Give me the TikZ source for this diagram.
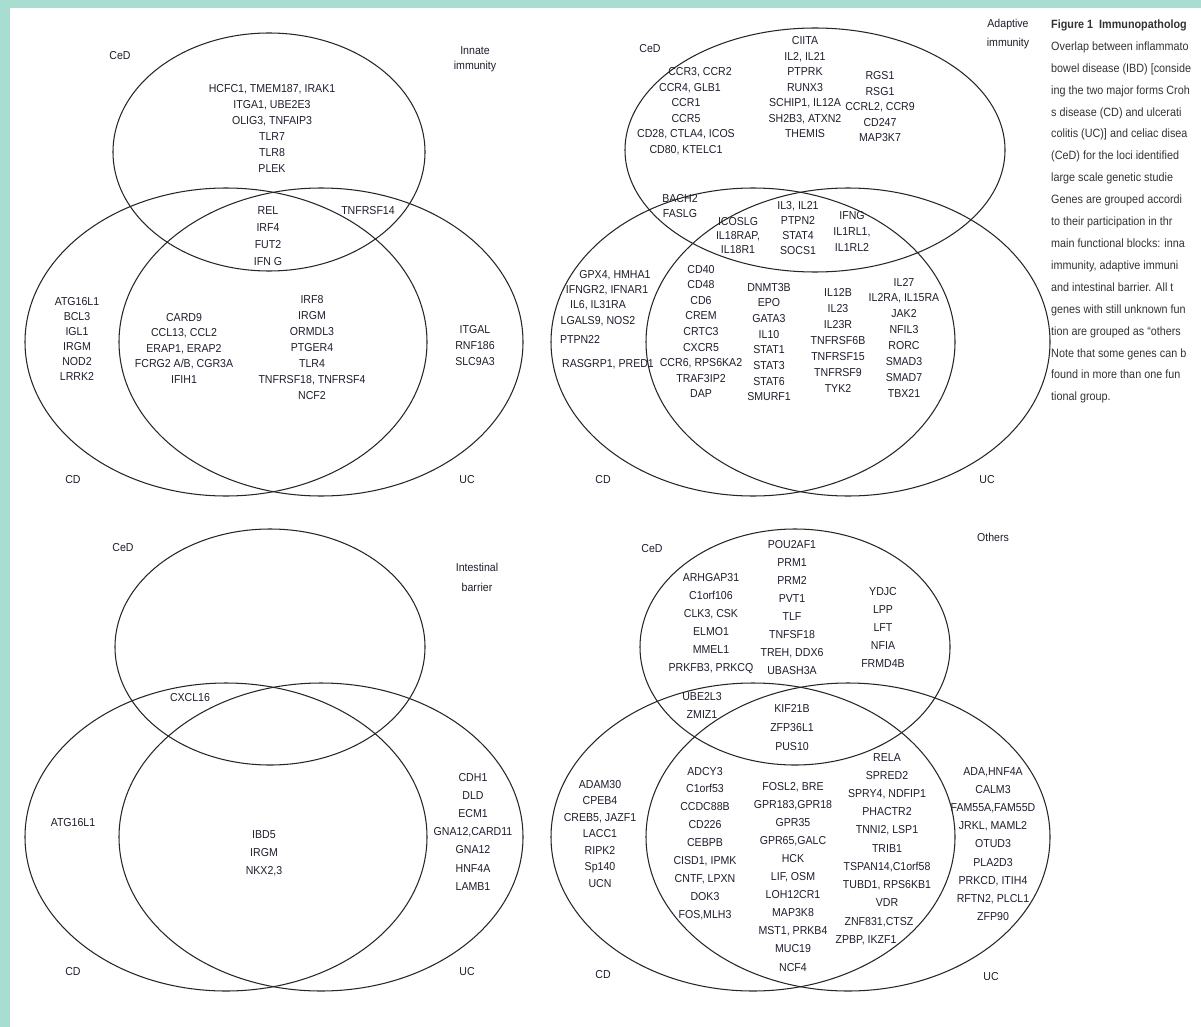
\documentclass[tikz,border=0pt]{standalone}
\usepackage{fontspec}
\setmainfont{Liberation Sans}[FakeStretch=0.92]
\newfontfamily\capfont{Liberation Sans}[FakeStretch=0.9]
\definecolor{frame}{RGB}{168,221,210}
\definecolor{ink}{RGB}{30,30,44}

% one column of gene names, placed top down
\newcommand{\genes}[5]{%
  \foreach \g [count=\i] in {#5}
    \node[gene] (#1\i) at (#2,{#3+(\i-1)*#4}) {\g};}

\begin{document}
\begin{tikzpicture}[x=1pt, y=-1pt,
    gene/.style={inner sep=0pt, text height=8pt, text depth=2pt, text=ink,
                 font=\fontsize{11.5}{13}\selectfont},
    tag/.style={gene},
    ring/.style={draw=black!85, line width=1.05pt},
    capline/.style={anchor=west, inner sep=0pt, text height=9pt, text depth=2pt,
                    text=black!80, font=\capfont\fontsize{12}{14}\selectfont},
  ]
\useasboundingbox (0,0) rectangle (1201,1027);
\fill[white] (0,0) rectangle (1201,1027);
\fill[frame] (0,0) rectangle (1201,8);
\fill[frame] (0,0) rectangle (10,1027);

% innate immunity
\draw[ring] (269,152) ellipse [x radius=156, y radius=119];
\draw[ring] (226,342) ellipse [x radius=201, y radius=154];
\draw[ring] (321,342) ellipse [x radius=202, y radius=154];
\node[tag] (inCeD) at (120,57) {CeD};
\node[tag] (inHead) at (475,52) {Innate};
\node[tag] (inHeadb) at (475,67) {immunity};
\genes{inC}{272}{90}{16}{{HCFC1, TMEM187, IRAK1},{ITGA1, UBE2E3},{OLIG3, TNFAIP3},TLR7,TLR8,PLEK}
\genes{inT}{268}{211}{17}{REL,IRF4,FUT2,IFN G}
\node[gene] (inCU) at (368,211) {TNFRSF14};
\genes{inD}{77}{302}{15}{ATG16L1,BCL3,IGL1,IRGM,NOD2,LRRK2}
\genes{inDUa}{184}{318}{15.5}{CARD9,{CCL13, CCL2},{ERAP1, ERAP2},{FCRG2 A/B, CGR3A},IFIH1}
\genes{inDUb}{312}{300}{16}{IRF8,IRGM,ORMDL3,PTGER4,TLR4,{TNFRSF18, TNFRSF4},NCF2}
\genes{inU}{475}{330}{16}{ITGAL,RNF186,SLC9A3}
\node[tag] (inCD) at (73,480) {CD};
\node[tag] (inUC) at (467,480) {UC};

% adaptive immunity
\draw[ring] (815,150) ellipse [x radius=190, y radius=122];
\draw[ring] (753,342) ellipse [x radius=202, y radius=154];
\draw[ring] (848,342) ellipse [x radius=202, y radius=154];
\node[tag] (adCeD) at (650,50) {CeD};
\node[tag] (adHead) at (1008,25) {Adaptive};
\node[tag] (adHeadb) at (1008,44) {immunity};
\node[gene] (adL1) at (700,73) {CCR3, CCR2};
\node[gene] (adL2) at (690,88.5) {CCR4, GLB1};
\genes{adLb}{686}{104}{15.5}{CCR1,CCR5,{CD28, CTLA4, ICOS},{CD80, KTELC1}}
\genes{adM}{805}{42}{15.5}{CIITA,{IL2, IL21},PTPRK,RUNX3,{SCHIP1, IL12A},{SH2B3, ATXN2},THEMIS}
\genes{adR}{880}{77}{15.5}{RGS1,RSG1,{CCRL2, CCR9},CD247,MAP3K7}
\genes{adCD}{680}{200}{14}{BACH2,FASLG}
\genes{adTa}{738}{222}{14}{ICOSLG,{IL18RAP,},IL18R1}
\genes{adTb}{798}{206}{15}{{IL3, IL21},PTPN2,STAT4,SOCS1}
\genes{adTc}{852}{216}{16}{IFNG,{IL1RL1,},IL1RL2}
\node[gene] (adD1) at (615,275) {GPX4, HMHA1};
\node[gene] (adD2) at (607,290) {IFNGR2, IFNAR1};
\node[gene] (adD3) at (598,305) {IL6, IL31RA};
\node[gene] (adD4) at (598,321) {LGALS9, NOS2};
\node[gene] (adD5) at (580,340) {PTPN22};
\node[gene] (adD6) at (608,364) {RASGRP1, PRED1};
\genes{adDUa}{701}{270}{15.6}{CD40,CD48,CD6,CREM,CRTC3,CXCR5,{CCR6, RPS6KA2},TRAF3IP2,DAP}
\genes{adDUb}{769}{288}{15.7}{DNMT3B,EPO,GATA3,IL10,STAT1,STAT3,STAT6,SMURF1}
\genes{adDUc}{838}{293}{16}{IL12B,IL23,IL23R,TNFRSF6B,TNFRSF15,TNFRSF9,TYK2}
\genes{adDUd}{904}{283}{15.9}{IL27,{IL2RA, IL15RA},JAK2,NFIL3,RORC,SMAD3,SMAD7,TBX21}
\node[tag] (adCD) at (603,480) {CD};
\node[tag] (adUC) at (987,480) {UC};

% intestinal barrier
\draw[ring] (270,647) ellipse [x radius=155, y radius=118];
\draw[ring] (226,837) ellipse [x radius=201, y radius=154];
\draw[ring] (321,837) ellipse [x radius=202, y radius=154];
\node[tag] (ibCeD) at (123,548) {CeD};
\node[tag] (ibHead) at (477,568) {Intestinal};
\node[tag] (ibHeadb) at (477,588) {barrier};
\node[gene] (ibCD) at (190,698) {CXCL16};
\node[gene] (ibD) at (73,823) {ATG16L1};
\genes{ibDU}{264}{835}{18}{IBD5,IRGM,{NKX2,3}}
\genes{ibU}{473}{778}{18.2}{CDH1,DLD,ECM1,{GNA12,CARD11},GNA12,HNF4A,LAMB1}
\node[tag] (ibCDl) at (73,972) {CD};
\node[tag] (ibUCl) at (467,972) {UC};

% others
\draw[ring] (795,647) ellipse [x radius=155, y radius=118];
\draw[ring] (753,837) ellipse [x radius=202, y radius=154];
\draw[ring] (848,837) ellipse [x radius=202, y radius=154];
\node[tag] (otCeD) at (652,549) {CeD};
\node[tag] (otHead) at (993,538) {Others};
\genes{otL}{711}{578}{18}{ARHGAP31,C1orf106,{CLK3, CSK},ELMO1,MMEL1,{PRKFB3, PRKCQ}}
\genes{otM}{792}{545}{18.1}{POU2AF1,PRM1,PRM2,PVT1,TLF,TNFSF18,{TREH, DDX6},UBASH3A}
\genes{otR}{883}{592}{18.2}{YDJC,LPP,LFT,NFIA,FRMD4B}
\genes{otCD}{702}{697}{18}{UBE2L3,ZMIZ1}
\genes{otT}{792}{709}{19}{KIF21B,ZFP36L1,PUS10}
\genes{otD}{600}{785}{16.5}{ADAM30,CPEB4,{CREB5, JAZF1},LACC1,RIPK2,Sp140,UCN}
\genes{otDUa}{705}{772}{17.9}{ADCY3,C1orf53,CCDC88B,CD226,CEBPB,{CISD1, IPMK},{CNTF, LPXN},DOK3,{FOS,MLH3}}
\genes{otDUb}{793}{787}{18.1}{{FOSL2, BRE},{GPR183,GPR18},GPR35,{GPR65,GALC},HCK,{LIF, OSM},LOH12CR1,MAP3K8,{MST1, PRKB4},MUC19,NCF4}
\genes{otDUc}{887}{758}{18.2}{RELA,SPRED2,{SPRY4, NDFIP1},PHACTR2,{TNNI2, LSP1},TRIB1,{TSPAN14,C1orf58},{TUBD1, RPS6KB1},VDR}
\node[gene] (otDUc10) at (879,922) {ZNF831,CTSZ};
\node[gene] (otDUc11) at (866,940) {ZPBP, IKZF1};
\genes{otU}{993}{772}{18.2}{{ADA,HNF4A},CALM3,{FAM55A,FAM55D},{JRKL, MAML2},OTUD3,PLA2D3,{PRKCD, ITIH4},{RFTN2, PLCL1},ZFP90}
\node[tag] (otCD) at (603,975) {CD};
\node[tag] (otUC) at (991,977) {UC};

% legend text, as far as the right edge shows it
\foreach \t [count=\i] in {{\bfseries Figure 1\enspace Immunopatholog},
    {Overlap between inflammato},{bowel disease (IBD) [conside},
    {ing the two major forms Croh},{s disease (CD) and ulcerati},
    {colitis (UC)] and celiac disea},{(CeD) for the loci identified},
    {large scale genetic studie},{Genes are grouped accordi},
    {to their participation in thr},{main functional blocks: inna},
    {immunity, adaptive immuni},{and intestinal barrier. All t},
    {genes with still unknown fun},{tion are grouped as “others},
    {Note that some genes can b},{found in more than one fun},
    {tional group.}}
  \node[capline] (cap\i) at (1051,{25+(\i-1)*21.9}) {\t};
\end{tikzpicture}
\end{document}
